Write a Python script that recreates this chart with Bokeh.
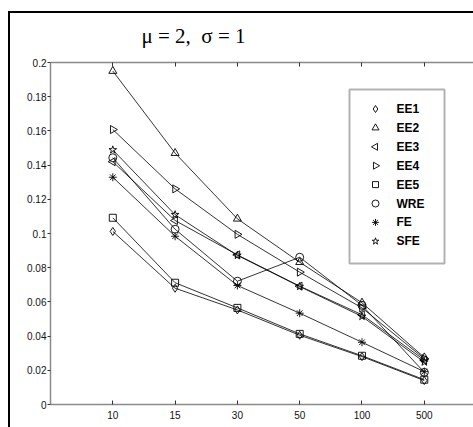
import math
from bokeh.plotting import figure
from bokeh.models import (FixedTicker, LinearAxis, Range1d, BoxAnnotation,
                          InlineStyleSheet)
from bokeh.embed import file_html
from bokeh.resources import INLINE
from bokeh.core.properties import value

# ---- data ----
sample_sizes = ["10", "15", "30", "50", "100", "500"]
EE1 = [0.1012, 0.0680, 0.0553, 0.0405, 0.0280, 0.0140]
EE2 = [0.1950, 0.1470, 0.1086, 0.0832, 0.0595, 0.0275]
EE3 = [0.1420, 0.1076, 0.0875, 0.0692, 0.0525, 0.0260]
EE4 = [0.1608, 0.1261, 0.0995, 0.0774, 0.0565, 0.0268]
EE5 = [0.1092, 0.0712, 0.0565, 0.0413, 0.0285, 0.0145]
WRE = [0.1443, 0.1025, 0.0721, 0.0861, 0.0580, 0.0188]
FE = [0.1329, 0.0984, 0.0696, 0.0534, 0.0364, 0.0192]
SFE = [0.1489, 0.1110, 0.0872, 0.0690, 0.0515, 0.0248]
series_names = ["EE1", "EE2", "EE3", "EE4", "EE5", "WRE", "FE", "SFE"]
y_ticks = [0, 0.02, 0.04, 0.06, 0.08, 0.1, 0.12, 0.14, 0.16, 0.18, 0.2]
y_tick_labels = ["0", "0.02", "0.04", "0.06", "0.08", "0.1", "0.12", "0.14",
                 "0.16", "0.18", "0.2"]
title_text = "μ = 2,\u00a0 σ = 1"

series = [EE1, EE2, EE3, EE4, EE5, WRE, FE, SFE]
markers = ["diamond", "triangle", "triangle", "triangle", "square", "circle",
           "asterisk", "star"]
angles = [0, 0, math.pi / 2, -math.pi / 2, 0, 0, 0, 0]
sizes = [8, 8, 8, 8, 7, 8, 8, 8]

xs = list(range(1, len(sample_sizes) + 1))

# frame geometry in pixels (used to convert legend layout to data units)
FRAME_LEFT, FRAME_TOP, FRAME_BOTTOM = 50, 62, 404
X_END = 6.79
Y_END = 0.2
PX_PER_X = (473 - FRAME_LEFT) / X_END
PX_PER_Y = (FRAME_BOTTOM - FRAME_TOP) / Y_END


def px_x(px):
    return (px - FRAME_LEFT) / PX_PER_X


def px_y(py):
    return (FRAME_BOTTOM - py) / PX_PER_Y


p = figure(width=473, height=427, output_backend="svg", toolbar_location=None,
           x_range=Range1d(0, X_END), y_range=Range1d(0, Y_END),
           x_axis_location=None, y_axis_location=None,
           min_border_left=FRAME_LEFT, min_border_right=0,
           min_border_top=FRAME_TOP, min_border_bottom=427 - FRAME_BOTTOM)
p.outline_line_color = None
p.xgrid.visible = False
p.ygrid.visible = False
p.background_fill_color = None
p.border_fill_color = None

# outer frame of the figure (lines drawn behind the transparent canvas)
frame_css = {
    "background-color": "white",
    "background-image": "linear-gradient(#000, #000), linear-gradient(#000, #000)",
    "background-size": "2px calc(100% - 11px), calc(100% - 8px) 2px",
    "background-position": "8px 11px, 8px 11px",
    "background-repeat": "no-repeat",
}
p.styles = frame_css
p.stylesheets = [InlineStyleSheet(css=":host { " + "; ".join(
    f"{k}: {v}" for k, v in frame_css.items()) + "; }")]

# title
p.title.text = title_text
p.title.text_font = "Liberation Serif"
p.title.text_font_size = "21px"
p.title.text_font_style = "normal"
p.title.text_color = "black"
p.title.align = "left"
p.title.offset = 91
p.title.standoff = 29

axis_gray = "#8a8a8a"
tick_font = "Liberation Sans"

xa = LinearAxis(ticker=FixedTicker(ticks=xs),
                major_label_overrides={i + 1: s for i, s in enumerate(sample_sizes)})
xa.axis_line_color = axis_gray
xa.axis_line_width = 1.5
xa.major_tick_line_color = "#333333"
xa.major_tick_in = 4
xa.major_tick_out = 0
xa.minor_tick_line_color = None
xa.major_label_standoff = 6
xa.major_label_text_font = tick_font
xa.major_label_text_font_size = "10px"
xa.major_label_text_color = "#111111"
p.add_layout(xa, "below")

ta = LinearAxis(ticker=FixedTicker(ticks=xs))
ta.axis_line_color = axis_gray
ta.axis_line_width = 1.5
ta.major_tick_line_color = "#333333"
ta.major_tick_in = 4
ta.major_tick_out = 0
ta.minor_tick_line_color = None
ta.major_label_text_color = None
ta.major_label_text_font_size = "1px"
ta.major_label_standoff = 0
p.add_layout(ta, "above")

ya = LinearAxis(ticker=FixedTicker(ticks=y_ticks),
                major_label_overrides={t: s for t, s in zip(y_ticks, y_tick_labels)})
ya.axis_line_color = axis_gray
ya.axis_line_width = 1.5
ya.major_tick_line_color = "#333333"
ya.major_tick_in = 0
ya.major_tick_out = 3
ya.minor_tick_line_color = None
ya.major_label_standoff = 1
ya.major_label_text_font = tick_font
ya.major_label_text_font_size = "10px"
ya.major_label_text_color = "#111111"
p.add_layout(ya, "left")

for name, vals, mk, ang, sz in zip(series_names, series, markers, angles, sizes):
    p.line(xs, vals, line_color="black", line_width=0.8)
    p.scatter(xs, vals, marker=mk, angle=ang, size=sz, fill_color=None,
              line_color="black", line_width=0.9)

# legend (drawn by hand so that the rotated triangles keep their direction)
LEG_L, LEG_R, LEG_T, LEG_B = 349, 444, 89, 263
ROW0, ROW_STEP = 108.5, 18.9
MARK_X, TEXT_X = 375, 396
p.add_layout(BoxAnnotation(left=px_x(LEG_L), right=px_x(LEG_R),
                           top=px_y(LEG_T), bottom=px_y(LEG_B),
                           fill_color=None, line_color="black", line_width=2))
row_y = [px_y(ROW0 + i * ROW_STEP) for i in range(len(series_names))]
for i, (mk, ang, sz) in enumerate(zip(markers, angles, sizes)):
    p.scatter([px_x(MARK_X)], [row_y[i]], marker=mk, angle=ang, size=sz - 1,
              fill_color=None, line_color="black", line_width=0.9)
p.text([px_x(TEXT_X)] * len(series_names), row_y, text=series_names,
       text_font=value("Liberation Sans"), text_font_style="bold",
       text_font_size="12px", text_baseline="middle", text_align="left",
       text_color="black")

open("out.html", "w").write(file_html(p, INLINE))
